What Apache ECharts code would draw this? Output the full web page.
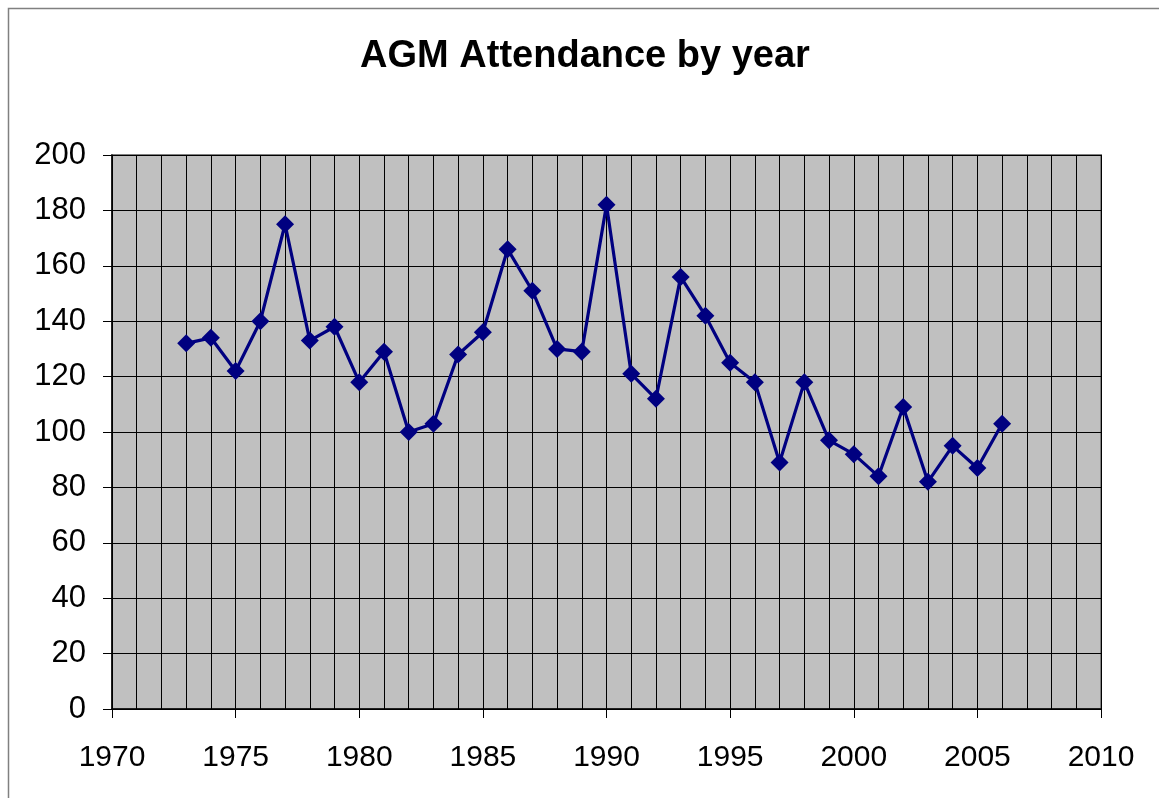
<!DOCTYPE html>
<html><head><meta charset="utf-8">
<script src="https://cdn.jsdelivr.net/npm/echarts@6/dist/echarts.min.js"></script>
<style>html,body{margin:0;padding:0;background:#fff}#c{width:1159px;height:798px}</style>
</head><body><div id="c"></div>
<script>
const years = [1973,1974,1975,1976,1977,1978,1979,1980,1981,1982,1983,1984,1985,1986,1987,1988,1989,1990,1991,1992,1993,1994,1995,1996,1997,1998,1999,2000,2001,2002,2003,2004,2005,2006];
const attendance = [132,134,122,140,175,133,138,118,129,100,103,128,136,166,151,130,129,182,121,112,156,142,125,118,89,118,97,92,84,109,82,95,87,103];
const titleText = 'AGM Attendance by year';

const chart = echarts.init(document.getElementById('c'), null, {renderer:'canvas'});
chart.setOption({
  animation:false,
  backgroundColor:'#fff',
  graphic:[
    {type:'rect',shape:{x:8.5,y:8.5,width:1200,height:1000},style:{fill:'none',stroke:'#808080',lineWidth:1.5},z:-1},
    {type:'text',x:585,y:57,style:{text:titleText,fontFamily:'Liberation Sans',fontWeight:'bold',fontSize:38,fill:'#000',textAlign:'center',textVerticalAlign:'middle'}}
  ],
  grid:{left:112,right:58,top:155,bottom:89,show:true,backgroundColor:'#c0c0c0',borderColor:'#808080',borderWidth:2},
  xAxis:{type:'value',min:1970,max:2010,interval:5,
    axisLine:{show:true,lineStyle:{color:'#000',width:1.5}},
    axisTick:{show:true,length:9,lineStyle:{color:'#000'}},
    axisLabel:{fontFamily:'Liberation Sans',fontSize:30,color:'#000',margin:34,formatter:v=>String(v)},
    splitLine:{show:true,lineStyle:{color:'#000',width:1}},
    minorTick:{show:false,splitNumber:5},
    minorSplitLine:{show:true,lineStyle:{color:'#000',width:1}}},
  yAxis:{type:'value',min:0,max:200,interval:20,
    axisLine:{show:true,lineStyle:{color:'#000',width:1.5}},
    axisTick:{show:true,length:9,lineStyle:{color:'#000'}},
    axisLabel:{fontFamily:'Liberation Sans',fontSize:31,color:'#000',margin:26,formatter:v=>String(v)},
    splitLine:{show:true,lineStyle:{color:'#000',width:1}}},
  series:[{type:'line',data:years.map((y,i)=>[y,attendance[i]]),
    symbol:'diamond',symbolSize:18,
    lineStyle:{color:'#000080',width:3.2},
    itemStyle:{color:'#000080'}}]
});
</script></body></html>
